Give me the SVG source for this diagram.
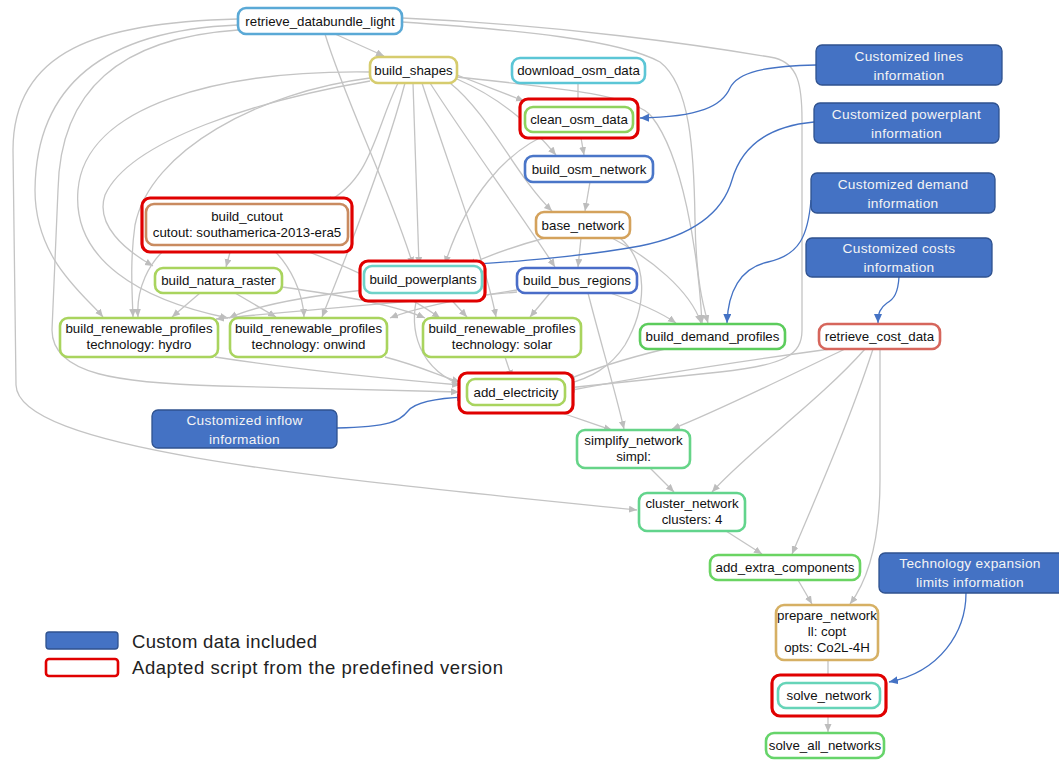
<svg xmlns="http://www.w3.org/2000/svg" width="1059" height="760" viewBox="0 0 1059 760">
<style>
.n{fill:#fff;stroke-width:2.6}
.red{fill:#fff;stroke:#e00000;stroke-width:3.2}
.t{font-family:"Liberation Sans",Arial,sans-serif;font-size:13.3px;fill:#111;text-anchor:middle}
.c{fill:#4472c4;stroke:#2f528f;stroke-width:1.3}
.ct{font-family:"Liberation Sans",Arial,sans-serif;font-size:13.7px;fill:#f4f4f4;text-anchor:middle;letter-spacing:0.3px}
.e path{fill:none;stroke:#c4c4c4;stroke-width:1.3;marker-end:url(#ag)}
.b path{fill:none;stroke:#4472c4;stroke-width:1.3;marker-end:url(#ab)}
.lg{font-family:"Liberation Sans",Arial,sans-serif;font-size:18.5px;fill:#222}
</style>
<defs>
<marker id="ag" markerUnits="userSpaceOnUse" markerWidth="9" markerHeight="8" refX="8" refY="3.5" orient="auto"><path d="M0,0 L8,3.5 L0,7 z" fill="#bdbdbd"/></marker>
<marker id="ab" markerUnits="userSpaceOnUse" markerWidth="10" markerHeight="9" refX="9" refY="4" orient="auto"><path d="M0,0 L9,4 L0,8 z" fill="#4472c4"/></marker>
</defs>
<rect width="1059" height="760" fill="#fff"/>
<g id="connectors">
<g class="e">
<path d="M335,34 L384,56"/>
<path d="M325,34 C345,100 390,190 413,265"/>
<path d="M402,22 C520,30 620,40 660,62 C690,85 694,150 695,220 C696,280 703,305 708,323"/>
<path d="M402,18 C560,25 700,45 775,58 C798,64 802,85 802,120 L802,330 C802,355 785,365 720,372 L567,388"/>
<path d="M238,19 C100,22 13,50 13,150 L16,385 C18,450 320,478 637,510"/>
<path d="M238,25 C110,30 36,80 35,190 C35,260 85,295 103,317"/>
<path d="M238,30 C120,38 60,90 58,190 L52,330 C52,375 120,383 220,386 L459,392"/>
<path d="M370,78 C260,92 150,150 135,225 C130,260 132,290 133,317"/>
<path d="M370,72 C220,70 85,105 78,190 C72,260 140,300 228,318"/>
<path d="M370,81 C260,100 130,140 105,195 C95,225 125,250 153,266"/>
<path d="M398,83 C375,130 372,180 325,203"/>
<path d="M405,83 C385,160 345,260 322,317"/>
<path d="M413,83 L419,265"/>
<path d="M422,83 C450,170 485,260 496,317"/>
<path d="M457,75 L524,101"/>
<path d="M457,79 C505,100 535,130 556,155"/>
<path d="M450,83 C490,115 515,175 552,211"/>
<path d="M457,77 C560,88 635,95 652,117 C682,155 698,250 702,323"/>
<path d="M430,83 C470,145 525,220 555,267"/>
<path d="M578,83 L578,106"/>
<path d="M580,132 L584,155"/>
<path d="M553,132 C505,150 465,200 445,264"/>
<path d="M590,182 L585,211"/>
<path d="M581,238 L578,267"/>
<path d="M545,238 C515,246 490,255 468,265"/>
<path d="M612,238 C650,258 690,290 701,323"/>
<path d="M620,238 C648,262 648,305 625,345 C610,368 590,378 567,384"/>
<path d="M232,245 L226,267"/>
<path d="M170,245 C148,262 136,290 138,317"/>
<path d="M268,245 C292,265 303,295 304,317"/>
<path d="M290,245 C360,270 415,300 440,318"/>
<path d="M200,293 L172,317"/>
<path d="M235,293 L276,317"/>
<path d="M282,287 C340,295 395,305 425,318"/>
<path d="M364,290 C300,297 255,306 229,318"/>
<path d="M517,292 C430,300 300,310 216,319"/>
<path d="M445,293 L467,317"/>
<path d="M418,293 C408,330 418,370 466,387"/>
<path d="M517,290 C470,297 420,306 390,318"/>
<path d="M550,293 L530,317"/>
<path d="M610,293 C640,303 660,312 676,323"/>
<path d="M588,293 C600,340 615,390 624,429"/>
<path d="M215,357 C300,370 400,380 460,385"/>
<path d="M385,357 C420,366 440,376 460,382"/>
<path d="M505,357 L512,378"/>
<path d="M665,349 C620,360 590,370 567,380"/>
<path d="M830,349 C750,360 650,375 567,391"/>
<path d="M845,349 C780,380 720,410 672,429"/>
<path d="M865,349 C820,400 750,450 712,492"/>
<path d="M873,349 C850,420 815,500 792,554"/>
<path d="M880,349 L880,480 C880,540 868,580 850,604"/>
<path d="M537,405 C570,415 595,425 612,430"/>
<path d="M650,468 L674,492"/>
<path d="M726,531 L762,554"/>
<path d="M798,580 L812,604"/>
<path d="M828,660 L828,682"/>
<path d="M828,708 L828,732"/>
</g>
<g class="b">
<path d="M816,65 C765,66 738,72 730,88 C722,106 700,117 640,118"/>
<path d="M814,122 C770,126 742,145 732,180 C722,215 690,236 640,246 C580,257 510,262 451,266"/>
<path d="M811,200 C808,235 800,255 768,262 C740,268 728,292 727,323"/>
<path d="M899,277 C898,293 894,299 887,303 C880,308 878,313 878,323"/>
<path d="M337,428 C390,427 400,421 408,411 C416,401 440,398 466,397"/>
<path d="M966,593 C966,632 940,672 889,682"/>
</g>
</g>
<g id="retrieve_databundle_light"><rect class="n" x="238" y="8" width="164" height="26" rx="8" stroke="#5aa9d6"/><text class="t" x="320" y="25.5">retrieve_databundle_light</text></g>
<g id="build_shapes"><rect class="n" x="370" y="57" width="87" height="26" rx="8" stroke="#d6cc6e"/><text class="t" x="413.5" y="74.5">build_shapes</text></g>
<g id="download_osm_data"><rect class="n" x="512" y="58" width="133" height="25" rx="8" stroke="#5cc6d6"/><text class="t" x="578.5" y="75">download_osm_data</text></g>
<g id="clean_osm_data"><rect class="red" x="520" y="99" width="118" height="39" rx="8"/><rect class="n" x="525" y="107" width="108" height="25" rx="8" stroke="#8fd25e"/><text class="t" x="579" y="124">clean_osm_data</text></g>
<g id="build_osm_network"><rect class="n" x="525" y="156" width="128" height="26" rx="8" stroke="#4a76c8"/><text class="t" x="589" y="173.5">build_osm_network</text></g>
<g id="base_network"><rect class="n" x="536" y="212" width="94" height="26" rx="8" stroke="#d4a25c"/><text class="t" x="583" y="229.5">base_network</text></g>
<g id="build_cutout"><rect class="red" x="142" y="198" width="210" height="54" rx="8"/><rect class="n" x="146" y="204" width="202" height="41" rx="8" stroke="#c98b60"/><text class="t" x="247" y="220.5">build_cutout</text><text class="t" x="247" y="236.5">cutout: southamerica-2013-era5</text></g>
<g id="build_natura_raster"><rect class="n" x="155" y="268" width="127" height="25" rx="8" stroke="#a9d45e"/><text class="t" x="218.5" y="285">build_natura_raster</text></g>
<g id="build_powerplants"><rect class="red" x="360" y="261" width="125" height="40" rx="8"/><rect class="n" x="364" y="266" width="118" height="27" rx="8" stroke="#6fd2c8"/><text class="t" x="423" y="284">build_powerplants</text></g>
<g id="build_bus_regions"><rect class="n" x="517" y="268" width="120" height="25" rx="8" stroke="#4a6dc8"/><text class="t" x="577" y="285">build_bus_regions</text></g>
<g id="build_renewable_profiles_hydro"><rect class="n" x="60" y="318" width="158" height="39" rx="8" stroke="#a9d45e"/><text class="t" x="139" y="332.5">build_renewable_profiles</text><text class="t" x="139" y="348.5">technology: hydro</text></g>
<g id="build_renewable_profiles_onwind"><rect class="n" x="230" y="318" width="157" height="39" rx="8" stroke="#a9d45e"/><text class="t" x="308.5" y="332.5">build_renewable_profiles</text><text class="t" x="308.5" y="348.5">technology: onwind</text></g>
<g id="build_renewable_profiles_solar"><rect class="n" x="423" y="318" width="158" height="39" rx="8" stroke="#a9d45e"/><text class="t" x="502" y="332.5">build_renewable_profiles</text><text class="t" x="502" y="348.5">technology: solar</text></g>
<g id="build_demand_profiles"><rect class="n" x="640" y="324" width="145" height="25" rx="8" stroke="#5ccc5c"/><text class="t" x="712.5" y="341">build_demand_profiles</text></g>
<g id="retrieve_cost_data"><rect class="n" x="819" y="324" width="121" height="25" rx="8" stroke="#d6665c"/><text class="t" x="879.5" y="341">retrieve_cost_data</text></g>
<g id="add_electricity"><rect class="red" x="459" y="373" width="114" height="40" rx="8"/><rect class="n" x="467" y="379" width="98" height="26" rx="8" stroke="#a9d45e"/><text class="t" x="516" y="396.5">add_electricity</text></g>
<g id="simplify_network"><rect class="n" x="577" y="430" width="113" height="38" rx="8" stroke="#66d488"/><text class="t" x="633.5" y="444.5">simplify_network</text><text class="t" x="633.5" y="460.5">simpl:</text></g>
<g id="cluster_network"><rect class="n" x="639" y="493" width="106" height="38" rx="8" stroke="#62d48c"/><text class="t" x="692" y="507.5">cluster_network</text><text class="t" x="692" y="523.5">clusters: 4</text></g>
<g id="add_extra_components"><rect class="n" x="710" y="555" width="150" height="25" rx="8" stroke="#6ad462"/><text class="t" x="785" y="572">add_extra_components</text></g>
<g id="prepare_network"><rect class="n" x="776" y="605" width="102" height="55" rx="8" stroke="#d6b064"/><text class="t" x="827" y="619.5">prepare_network</text><text class="t" x="827" y="635.5">ll: copt</text><text class="t" x="827" y="651.5">opts: Co2L-4H</text></g>
<g id="solve_network"><rect class="red" x="772" y="675" width="114" height="41" rx="8"/><rect class="n" x="778" y="683" width="102" height="25" rx="8" stroke="#66d4b8"/><text class="t" x="829" y="700">solve_network</text></g>
<g id="solve_all_networks"><rect class="n" x="766" y="733" width="118" height="25" rx="8" stroke="#66d46a"/><text class="t" x="825" y="750">solve_all_networks</text></g>
<g id="custom_lines"><rect class="c" x="816" y="45" width="186" height="40" rx="6"/><text class="ct" x="909" y="61">Customized lines</text><text class="ct" x="909" y="80">information</text></g>
<g id="custom_powerplant"><rect class="c" x="814" y="103" width="185" height="40" rx="6"/><text class="ct" x="906.5" y="118.5">Customized powerplant</text><text class="ct" x="906.5" y="137.5">information</text></g>
<g id="custom_demand"><rect class="c" x="811" y="173" width="184" height="40" rx="6"/><text class="ct" x="903" y="188.5">Customized demand</text><text class="ct" x="903" y="207.5">information</text></g>
<g id="custom_costs"><rect class="c" x="806" y="238" width="186" height="39" rx="6"/><text class="ct" x="899" y="252.5">Customized costs</text><text class="ct" x="899" y="271.5">information</text></g>
<g id="custom_inflow"><rect class="c" x="152" y="410" width="185" height="38" rx="6"/><text class="ct" x="244.5" y="424.5">Customized inflow</text><text class="ct" x="244.5" y="443.5">information</text></g>
<g id="custom_tech"><rect class="c" x="879" y="553" width="190" height="40" rx="6"/><text class="ct" x="970" y="568">Technology expansion</text><text class="ct" x="970" y="587">limits information</text></g>
<g id="legend">
<rect class="c" x="46" y="632" width="72" height="17" rx="3"/>
<rect x="46" y="659" width="72" height="17" rx="3" fill="#fff" stroke="#e00000" stroke-width="2.6"/>
<text class="lg" x="132" y="648" textLength="185" lengthAdjust="spacing">Custom data included</text>
<text class="lg" x="132" y="674" textLength="371" lengthAdjust="spacing">Adapted script from the predefined version</text>
</g>
</svg>
